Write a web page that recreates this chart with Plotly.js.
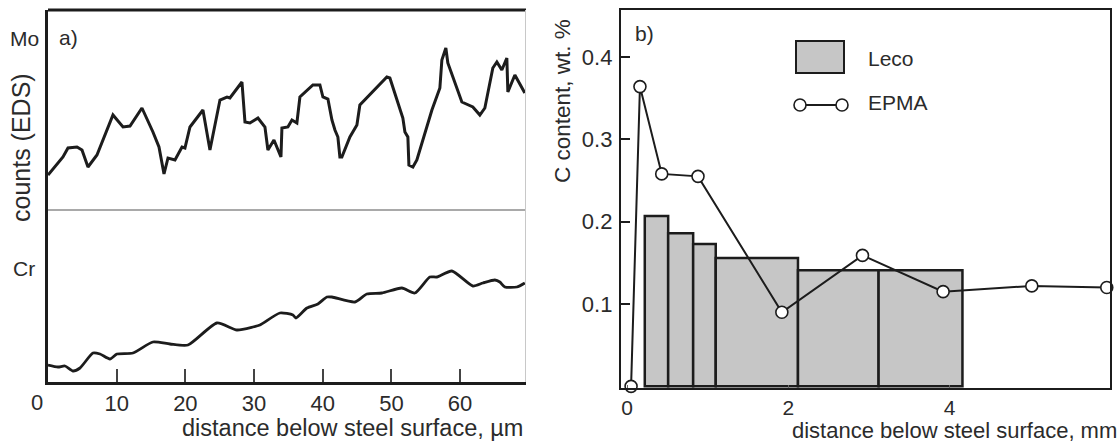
<!DOCTYPE html>
<html>
<head>
<meta charset="utf-8">
<script src="https://cdn.plot.ly/plotly-3.0.1.min.js"></script>
<style>
  html, body { margin: 0; padding: 0; background: #fff; }
  #chart { width: 1120px; height: 444px; }
</style>
</head>
<body>
<div id="chart"></div>
<script>
// ---- Panel a) EDS line scans (distance in µm, counts in arbitrary units) ----
const moDist = [0.0, 2.18, 2.91, 4.22, 4.95, 5.82, 7.13, 9.46, 10.92, 11.94, 13.68, 15.28, 16.16, 16.89, 17.47, 18.49, 19.51, 19.94, 20.67, 22.56, 23.58, 25.04, 26.06, 26.49, 28.24, 28.68, 29.40, 30.57, 31.59, 32.02, 32.90, 33.33, 33.92, 34.06, 34.93, 35.52, 36.24, 36.68, 37.70, 38.57, 39.59, 40.03, 40.76, 41.34, 41.78, 42.21, 42.50, 42.79, 43.96, 44.98, 45.41, 49.34, 49.78, 50.80, 51.67, 51.97, 52.40, 52.55, 53.13, 53.71, 55.90, 57.06, 57.35, 57.93, 58.22, 60.26, 61.43, 61.86, 62.88, 63.61, 64.77, 65.36, 66.08, 66.81, 66.96, 67.98, 69.43];
const moCounts = [17.5, 26.5, 31, 31.5, 30, 21.5, 27.5, 47.5, 41.5, 42, 51, 39, 31.5, 18, 26, 25, 31.5, 31, 41.5, 50, 30, 55, 56.5, 56, 64, 44, 43.5, 46, 41.5, 30, 35, 31.5, 26.5, 41, 41.5, 45, 43.5, 56.5, 60, 62.5, 62.5, 56.5, 55.5, 45, 40, 36.5, 26.5, 26.5, 36.5, 42.5, 52.5, 66.5, 66, 55, 46, 39, 36.5, 22.5, 21.5, 25, 50, 61, 75, 81, 73.5, 54, 52, 51.5, 47.5, 51, 71, 74, 70, 76, 59, 67.5, 58.5];

const crDist = [0, 1.46, 2.47, 3.64, 4.66, 6.55, 7.57, 9.02, 10.04, 12.37, 15.28, 17.76, 20.38, 24.60, 27.51, 29.84, 30.86, 33.77, 35.66, 36.10, 37.70, 39.30, 40.61, 41.34, 44.69, 46.43, 48.62, 51.53, 53.42, 55.60, 56.62, 58.81, 61.86, 63.32, 65.07, 65.79, 66.52, 68.27, 69.43];
const crCounts = [8.5, 7.5, 8, 5.5, 7, 14.5, 14, 11.5, 14, 14.5, 20, 19, 18.5, 29.5, 26, 27.5, 28.5, 34.5, 33.5, 32, 37, 39, 42.5, 42.5, 40, 44, 44.5, 47, 44.5, 52.5, 52.5, 55.5, 48, 49.5, 51, 50, 47.5, 47.5, 49.5];

const aTicks = [10, 20, 30, 40, 50, 60];

// ---- Panel b) carbon content (distance in mm, wt. %) ----
const lecoFrom = [0.22, 0.51, 0.82, 1.10, 2.12, 3.12];
const lecoTo   = [0.51, 0.82, 1.10, 2.12, 3.12, 4.16];
const lecoC    = [0.207, 0.186, 0.173, 0.156, 0.141, 0.141];

const epmaDist = [0.05, 0.16, 0.43, 0.88, 1.92, 2.92, 3.92, 5.02, 5.95];
const epmaC    = [0.0, 0.364, 0.258, 0.255, 0.090, 0.159, 0.115, 0.122, 0.120];

const bTicksX = [0, 2, 4, 6];
const bTicksY = [0.1, 0.2, 0.3, 0.4];

// ---- layout helpers (pixel -> paper) ----
const W = 1120, H = 444;
const px = v => v / W;
const py = v => 1 - v / H;

const FONT = 'Liberation Sans, Arial, sans-serif';
const TXT = '#2b2b2b';
const INK = '#1c1c1c';

const traces = [
  { type: 'scatter', mode: 'lines', name: 'Mo', x: moDist, y: moCounts,
    xaxis: 'x', yaxis: 'y2', line: { color: INK, width: 3 }, showlegend: false },
  { type: 'scatter', mode: 'lines', name: 'Cr', x: crDist, y: crCounts,
    xaxis: 'x', yaxis: 'y', line: { color: INK, width: 2.8, shape: 'spline', smoothing: 0.6 }, showlegend: false },
  { type: 'bar', name: 'Leco',
    x: lecoFrom.map((a, i) => (a + lecoTo[i]) / 2),
    width: lecoFrom.map((a, i) => lecoTo[i] - a),
    y: lecoC, xaxis: 'x3', yaxis: 'y3',
    marker: { color: '#c6c6c6', line: { color: INK, width: 2.5 } }, showlegend: false },
  { type: 'scatter', mode: 'lines+markers', name: 'EPMA', x: epmaDist, y: epmaC,
    xaxis: 'x3', yaxis: 'y3', cliponaxis: false,
    line: { color: INK, width: 2 },
    marker: { symbol: 'circle', size: 12, color: '#ffffff', line: { color: INK, width: 1.6 } },
    showlegend: false }
];

const ann = (text, x, y, opts = {}) => Object.assign({
  text, x: px(x), y: py(y), xref: 'paper', yref: 'paper', showarrow: false,
  font: { family: FONT, size: 21, color: TXT }, xanchor: 'center', yanchor: 'middle'
}, opts);
const big = s => ({ font: { family: FONT, size: s, color: TXT } });

const tickFont = { family: FONT, size: 22, color: TXT };

const layout = {
  width: W, height: H,
  margin: { l: 0, r: 0, t: 0, b: 0, pad: 0 },
  paper_bgcolor: '#ffffff', plot_bgcolor: 'rgba(0,0,0,0)',
  font: { family: FONT, size: 21, color: TXT },
  showlegend: false,
  bargap: 0,
  xaxis: {
    domain: [px(48), px(526)], range: [0, 69.6], anchor: 'y',
    showgrid: false, zeroline: false, showline: true, linecolor: INK, linewidth: 3,
    tickmode: 'array', tickvals: aTicks, ticks: 'inside', ticklen: 13, tickwidth: 2, tickcolor: '#444',
    tickfont: tickFont, ticklabelstandoff: 0
  },
  yaxis: {
    domain: [py(382), py(210)], range: [0, 86], anchor: 'x',
    showgrid: false, zeroline: false, showline: true, linecolor: INK, linewidth: 3,
    showticklabels: false, ticks: ''
  },
  yaxis2: {
    domain: [py(210), py(10)], range: [0, 100], anchor: 'x',
    showgrid: false, zeroline: false, showline: true, linecolor: INK, linewidth: 3,
    showticklabels: false, ticks: ''
  },
  xaxis3: {
    domain: [px(621), px(1110)], range: [-0.075, 5.99], anchor: 'y3',
    showgrid: false, zeroline: false, showline: true, mirror: true, linecolor: INK, linewidth: 2.2,
    tickmode: 'array', tickvals: bTicksX, ticks: 'inside', ticklen: 3, tickwidth: 1, tickcolor: '#666',
    tickfont: { family: FONT, size: 21, color: TXT }, ticklabelstandoff: 0
  },
  yaxis3: {
    domain: [py(388), py(10)], range: [-0.002, 0.457], anchor: 'x3',
    showgrid: false, zeroline: false, showline: true, mirror: true, linecolor: INK, linewidth: 2.2,
    tickmode: 'array', tickvals: bTicksY, tickformat: '.1f', ticks: 'inside', ticklen: 9, tickwidth: 2, tickcolor: INK,
    tickfont: tickFont, ticklabelstandoff: 2
  },
  shapes: [
    // panel a frame pieces
    { type: 'line', xref: 'paper', yref: 'paper', x0: px(48), x1: px(526), y0: py(10), y1: py(10), line: { color: INK, width: 3 } },
    { type: 'line', xref: 'paper', yref: 'paper', x0: px(48), x1: px(526), y0: py(210), y1: py(210), line: { color: '#555', width: 1.2 } },
    { type: 'line', xref: 'paper', yref: 'paper', x0: px(525.5), x1: px(525.5), y0: py(10), y1: py(382), line: { color: '#c8c8c8', width: 1 } },
    // custom legend (panel b)
    { type: 'rect', xref: 'paper', yref: 'paper', x0: px(796), x1: px(844), y0: py(41), y1: py(73), fillcolor: '#c6c6c6', line: { color: INK, width: 2 } },
    { type: 'line', xref: 'paper', yref: 'paper', x0: px(800), x1: px(842), y0: py(105), y1: py(105), line: { color: INK, width: 2 } },
    { type: 'circle', xref: 'paper', yref: 'paper', x0: px(794), x1: px(806), y0: py(99), y1: py(111), fillcolor: '#ffffff', line: { color: INK, width: 1.6 } },
    { type: 'circle', xref: 'paper', yref: 'paper', x0: px(836), x1: px(848), y0: py(99), y1: py(111), fillcolor: '#ffffff', line: { color: INK, width: 1.6 } }
  ],
  annotations: [
    ann('a)', 68, 37),
    ann('Mo', 24, 39),
    ann('Cr', 24, 268),
    ann('counts (EDS)', 21, 148, Object.assign({ textangle: -90 }, big(25))),
    ann('0', 37, 402, big(22)),
    ann('distance below steel surface, µm', 525, 428, Object.assign({ xanchor: 'right' }, big(23.5))),
    ann('b)', 644, 33),
    ann('C content, wt. %', 562, 101, Object.assign({ textangle: -90 }, big(22.5))),
    ann('distance below steel surface, mm', 1118, 444, Object.assign({ xanchor: 'right', yanchor: 'bottom', borderpad: 0 }, big(22))),
    ann('Leco', 866, 58, { xanchor: 'left' }),
    ann('EPMA', 866, 102, { xanchor: 'left' })
  ]
};

Plotly.newPlot('chart', traces, layout, { displayModeBar: false, staticPlot: true });
</script>
</body>
</html>
